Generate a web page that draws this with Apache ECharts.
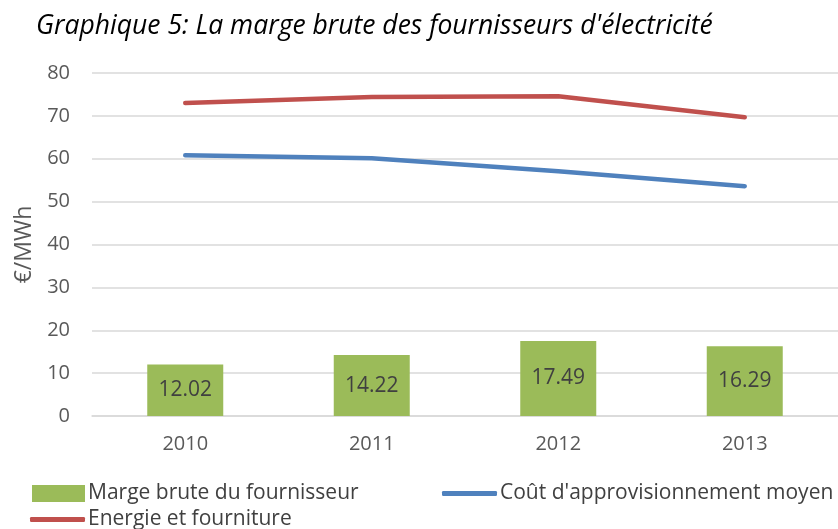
<!DOCTYPE html>
<html>
<head>
<meta charset="utf-8">
<script src="https://cdn.jsdelivr.net/npm/echarts@6/dist/echarts.min.js"></script>
<style>
  html, body { margin: 0; padding: 0; background: #fff; }
  #chart { width: 838px; height: 529px; }
</style>
</head>
<body>
<div id="chart"></div>
<script>
// data
var years = ['2010', '2011', '2012', '2013'];
var marge = [12.02, 14.22, 17.49, 16.29];
var cout = [60.8, 60.1, 57.1, 53.6];
var energie = [73.0, 74.4, 74.6, 69.7];

var font = 'Open Sans';
var chart = echarts.init(document.getElementById('chart'));

var option = {
  animation: false,
  title: {
    text: "Graphique 5: La marge brute des fournisseurs d'électricité",
    left: 36,
    top: 13,
    padding: 0,
    textStyle: { fontFamily: font, fontStyle: 'italic', fontWeight: 'normal', fontSize: 26.5, color: '#000' }
  },
  grid: { left: 92, top: 73, width: 752, height: 343 },
  legend: [
    {
      data: [{ name: 'Marge brute du fournisseur', icon: 'rect' }],
      left: 32, top: 483, padding: 0, itemWidth: 53, itemHeight: 17, itemGap: 0,
      textStyle: { fontFamily: font, fontSize: 21, color: '#404040', padding: [0, 0, 0, -2] }
    },
    {
      data: [{ name: "Coût d'approvisionnement moyen", icon: 'roundRect' }],
      left: 442, top: 483, padding: 0, itemWidth: 55, itemHeight: 5,
      textStyle: { fontFamily: font, fontSize: 21, color: '#404040', padding: [0, 0, 0, -2] }
    },
    {
      data: [{ name: 'Energie et fourniture', icon: 'roundRect' }],
      left: 30, top: 509, padding: 0, itemWidth: 55, itemHeight: 5,
      textStyle: { fontFamily: font, fontSize: 21, color: '#404040', padding: [0, 0, 0, -2] }
    }
  ],
  xAxis: {
    type: 'category',
    data: years,
    axisLine: { lineStyle: { color: '#D9D9D9', width: 1.5 } },
    axisTick: { show: false },
    axisLabel: { fontFamily: font, fontSize: 20, color: '#595959', margin: 18 }
  },
  yAxis: {
    type: 'value',
    min: 0, max: 80, interval: 10,
    name: '€/MWh',
    nameLocation: 'middle',
    nameRotate: 90,
    nameGap: 56,
    nameTextStyle: { fontFamily: font, fontSize: 23, color: '#595959' },
    axisLine: { show: false },
    axisTick: { show: false },
    splitLine: { lineStyle: { color: '#D9D9D9', width: 1.5 } },
    axisLabel: { fontFamily: font, fontSize: 20, color: '#595959', margin: 22 }
  },
  series: [
    {
      name: 'Marge brute du fournisseur',
      type: 'bar',
      data: marge,
      barWidth: 76,
      itemStyle: { color: '#9BBB59' },
      label: {
        show: true, position: 'inside',
        fontFamily: font, fontSize: 21, color: '#404040',
        formatter: function (p) { return p.value.toFixed(2); }
      }
    },
    {
      name: "Coût d'approvisionnement moyen",
      type: 'line',
      data: cout,
      symbol: 'none',
      itemStyle: { color: '#4F81BD' },
      lineStyle: { color: '#4F81BD', width: 4.5, cap: 'round' }
    },
    {
      name: 'Energie et fourniture',
      type: 'line',
      data: energie,
      symbol: 'none',
      itemStyle: { color: '#C0504D' },
      lineStyle: { color: '#C0504D', width: 4.5, cap: 'round' }
    }
  ]
};

chart.setOption(option);
</script>
</body>
</html>
